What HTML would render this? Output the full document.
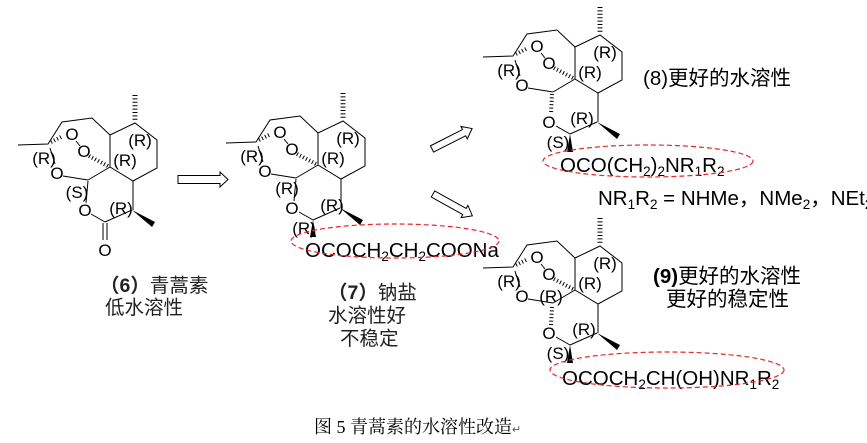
<!DOCTYPE html>
<html><head><meta charset="utf-8">
<style>
html,body{margin:0;padding:0;background:#fff;}
svg{display:block;}
.a{font-family:"Liberation Sans","Noto Sans CJK SC",sans-serif;font-size:17px;fill:#000;}
.s{font-family:"Liberation Sans","Noto Sans CJK SC",sans-serif;font-size:20.5px;fill:#000;}
.cj{font-family:"Liberation Sans","Noto Sans CJK SC",sans-serif;font-size:19.5px;fill:#222;}
.cap{font-family:"Liberation Serif","Noto Serif CJK SC",serif;font-size:18px;fill:#000;}
.b{stroke:#000;stroke-width:1;fill:none;}
.h{stroke:#000;stroke-width:5;stroke-dasharray:1 2.4;fill:none;}
.e{stroke:#e8262a;stroke-width:1.2;stroke-dasharray:5 3;fill:none;}
.ar{stroke:#000;stroke-width:1;fill:#fff;}
.sub{font-size:13.5px;}
</style></head>
<body>
<svg width="867" height="443" viewBox="0 0 867 443" xmlns="http://www.w3.org/2000/svg">

<!-- Molecule 6 -->
<g>
<path class="b" d="M18 145 L48 144 L62 122 L92 118 L110 135 M110 135 L135 123 L157 140 L157 168 L133 181 L110 167 Z"/>
<line class="h" x1="135" y1="95" x2="135" y2="121"/>
<line class="h" x1="51" y1="142" x2="63" y2="136" style="stroke-width:4"/>
<line class="b" x1="76" y1="141" x2="80" y2="146"/>
<line class="h" x1="89" y1="156" x2="108" y2="166" style="stroke-width:4"/>
<line class="b" x1="50" y1="148" x2="55" y2="164"/>
<line class="b" x1="63" y1="176" x2="88" y2="180"/>
<line class="b" x1="88" y1="180" x2="110" y2="167"/>
<line class="b" x1="133" y1="181" x2="133" y2="210"/>
<text class="a" x="72" y="140" text-anchor="middle">O</text>
<text class="a" x="84" y="157" text-anchor="middle">O</text>
<text class="a" x="57" y="179" text-anchor="middle">O</text>
<text class="a" x="44" y="164" text-anchor="middle">(R)</text>
<text class="a" x="125" y="166" text-anchor="middle">(R)</text>
<text class="a" x="140" y="146" text-anchor="middle">(R)</text>
<text class="a" x="77" y="198" text-anchor="middle">(S)</text>
<line class="b" x1="88" y1="181" x2="86" y2="203"/>
<text class="a" x="85" y="216" text-anchor="middle">O</text>
<line class="b" x1="91" y1="214" x2="105" y2="222"/>
<line class="b" x1="105" y1="222" x2="132" y2="210"/>
<line class="b" x1="103" y1="223" x2="103" y2="240"/>
<line class="b" x1="107" y1="223" x2="107" y2="240"/>
<text class="a" x="105" y="256" text-anchor="middle">O</text>
<text class="a" x="121" y="214" text-anchor="middle">(R)</text>
<polygon points="132,210 155,222 152,227" fill="#000"/>
</g>

<!-- Molecule 7 -->
<g transform="translate(208,-2)">
<path class="b" d="M18 145 L48 144 L62 122 L92 118 L110 135 M110 135 L135 123 L157 140 L157 168 L133 181 L110 167 Z"/>
<line class="h" x1="135" y1="95" x2="135" y2="121"/>
<line class="h" x1="51" y1="142" x2="63" y2="136" style="stroke-width:4"/>
<line class="b" x1="76" y1="141" x2="80" y2="146"/>
<line class="h" x1="89" y1="156" x2="108" y2="166" style="stroke-width:4"/>
<line class="b" x1="50" y1="148" x2="55" y2="164"/>
<line class="b" x1="63" y1="176" x2="88" y2="180"/>
<line class="b" x1="88" y1="180" x2="110" y2="167"/>
<line class="b" x1="133" y1="181" x2="133" y2="210"/>
<text class="a" x="72" y="140" text-anchor="middle">O</text>
<text class="a" x="84" y="157" text-anchor="middle">O</text>
<text class="a" x="57" y="179" text-anchor="middle">O</text>
<text class="a" x="44" y="164" text-anchor="middle">(R)</text>
<text class="a" x="125" y="166" text-anchor="middle">(R)</text>
<text class="a" x="140" y="146" text-anchor="middle">(R)</text>
<text class="a" x="79" y="196" text-anchor="middle">(R)</text>
<line class="b" x1="88" y1="181" x2="86" y2="203"/>
<text class="a" x="84" y="216" text-anchor="middle">O</text>
<line class="b" x1="91" y1="214" x2="105" y2="222"/>
<line class="b" x1="105" y1="222" x2="132" y2="210"/>
<text class="a" x="124" y="213" text-anchor="middle">(R)</text>
<text class="a" x="96" y="236" text-anchor="middle">(R)</text>
<polygon points="132,210 155,222 152,227" fill="#000"/>
<polygon points="105,222 102,239 108,239" fill="#000"/>
</g>
<text class="s" x="305" y="257">OCOCH<tspan class="sub" dy="4">2</tspan><tspan dy="-4">CH</tspan><tspan class="sub" dy="4">2</tspan><tspan dy="-4">COONa</tspan></text>
<ellipse class="e" cx="395" cy="241" rx="104" ry="17"/>

<!-- Molecule 8 -->
<g transform="translate(465,-88)">
<path class="b" d="M18 145 L48 144 L62 122 L92 118 L110 135 M110 135 L135 123 L157 140 L157 168 L133 181 L110 167 Z"/>
<line class="h" x1="135" y1="95" x2="135" y2="121"/>
<line class="h" x1="51" y1="142" x2="63" y2="136" style="stroke-width:4"/>
<line class="b" x1="76" y1="141" x2="80" y2="146"/>
<line class="h" x1="89" y1="156" x2="108" y2="166" style="stroke-width:4"/>
<line class="b" x1="50" y1="148" x2="55" y2="164"/>
<line class="b" x1="63" y1="176" x2="88" y2="180"/>
<line class="b" x1="88" y1="180" x2="110" y2="167"/>
<line class="b" x1="133" y1="181" x2="133" y2="210"/>
<text class="a" x="72" y="140" text-anchor="middle">O</text>
<text class="a" x="84" y="157" text-anchor="middle">O</text>
<text class="a" x="57" y="179" text-anchor="middle">O</text>
<text class="a" x="44" y="164" text-anchor="middle">(R)</text>
<text class="a" x="125" y="166" text-anchor="middle">(R)</text>
<text class="a" x="140" y="146" text-anchor="middle">(R)</text>
<line class="h" x1="87" y1="182" x2="86" y2="202" style="stroke-width:4"/>
<text class="a" x="84" y="216" text-anchor="middle">O</text>
<line class="b" x1="91" y1="214" x2="105" y2="222"/>
<line class="b" x1="105" y1="222" x2="132" y2="210"/>
<text class="a" x="117" y="212" text-anchor="middle">(R)</text>
<text class="a" x="93" y="236" text-anchor="middle">(S)</text>
<polygon points="132,210 155,222 152,227" fill="#000"/>
<polygon points="105,222 102,240 108,240" fill="#000"/>
</g>
<text class="s" x="560" y="172">OCO(CH<tspan class="sub" dy="4">2</tspan><tspan dy="-4">)</tspan><tspan class="sub" dy="4">2</tspan><tspan dy="-4">NR</tspan><tspan class="sub" dy="4">1</tspan><tspan dy="-4">R</tspan><tspan class="sub" dy="4">2</tspan></text>
<ellipse class="e" cx="648" cy="161" rx="105" ry="16"/>
<text class="s" x="643" y="85">(8)更好的水溶性</text>
<text class="s" x="598" y="205">NR<tspan class="sub" dy="4">1</tspan><tspan dy="-4">R</tspan><tspan class="sub" dy="4">2</tspan><tspan dy="-4"> = NHMe，NMe</tspan><tspan class="sub" dy="4">2</tspan><tspan dy="-4">，NEt</tspan><tspan class="sub" dy="4">2</tspan></text>

<!-- Molecule 9 -->
<g transform="translate(465,123)">
<path class="b" d="M18 145 L48 144 L62 122 L92 118 L110 135 M110 135 L135 123 L157 140 L157 168 L133 181 L110 167 Z"/>
<line class="h" x1="135" y1="95" x2="135" y2="121"/>
<line class="h" x1="51" y1="142" x2="63" y2="136" style="stroke-width:4"/>
<line class="b" x1="76" y1="141" x2="80" y2="146"/>
<line class="h" x1="89" y1="156" x2="108" y2="166" style="stroke-width:4"/>
<line class="b" x1="50" y1="148" x2="55" y2="164"/>
<line class="b" x1="63" y1="176" x2="88" y2="180"/>
<line class="b" x1="88" y1="180" x2="110" y2="167"/>
<line class="b" x1="133" y1="181" x2="133" y2="210"/>
<text class="a" x="72" y="140" text-anchor="middle">O</text>
<text class="a" x="84" y="157" text-anchor="middle">O</text>
<text class="a" x="57" y="179" text-anchor="middle">O</text>
<text class="a" x="44" y="164" text-anchor="middle">(R)</text>
<text class="a" x="125" y="166" text-anchor="middle">(R)</text>
<text class="a" x="140" y="146" text-anchor="middle">(R)</text>
<text class="a" x="86" y="179" text-anchor="middle">(R)</text>
<line class="h" x1="87" y1="184" x2="86" y2="202" style="stroke-width:4"/>
<text class="a" x="84" y="216" text-anchor="middle">O</text>
<line class="b" x1="91" y1="214" x2="105" y2="222"/>
<line class="b" x1="105" y1="222" x2="132" y2="210"/>
<text class="a" x="119" y="212" text-anchor="middle">(R)</text>
<text class="a" x="93" y="236" text-anchor="middle">(S)</text>
<polygon points="132,210 155,222 152,227" fill="#000"/>
<polygon points="105,222 102,240 108,240" fill="#000"/>
</g>
<text class="s" x="562" y="385">OCOCH<tspan class="sub" dy="4">2</tspan><tspan dy="-4">CH(OH)NR</tspan><tspan class="sub" dy="4">1</tspan><tspan dy="-4">R</tspan><tspan class="sub" dy="4">2</tspan></text>
<ellipse class="e" cx="667" cy="370" rx="117" ry="18"/>
<text class="s" x="653" y="283"><tspan font-weight="bold">(9)</tspan>更好的水溶性</text>
<text class="s" x="666" y="306">更好的稳定性</text>

<!-- Arrows -->
<path class="ar" d="M178 175.5 L220 175.5 L220 172 L228 179.5 L220 187 L220 183.5 L178 183.5 Z"/>
<g transform="translate(432,149) rotate(-27)">
<path class="ar" d="M0 -3.5 L36 -3.5 L36 -7 L45 0 L36 7 L36 3.5 L0 3.5 Z"/>
</g>
<g transform="translate(433,194) rotate(29)">
<path class="ar" d="M0 -3.5 L36 -3.5 L36 -7 L45 0 L36 7 L36 3.5 L0 3.5 Z"/>
</g>

<!-- Labels -->
<text class="cj" x="100" y="292"><tspan font-weight="bold">（6）</tspan>青蒿素</text>
<text class="cj" x="105" y="314">低水溶性</text>
<text class="cj" x="328" y="299"><tspan font-weight="bold">（7）</tspan>钠盐</text>
<text class="cj" x="328" y="322">水溶性好</text>
<text class="cj" x="340" y="345">不稳定</text>
<text class="cap" x="314" y="433">图 5  青蒿素的水溶性改造<tspan style="font-size:11px;fill:#555">↵</tspan></text>
</svg>
</body></html>
